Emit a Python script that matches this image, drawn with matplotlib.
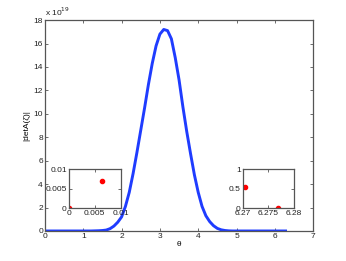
import matplotlib
matplotlib.use("Agg")
import matplotlib.pyplot as plt

plt.rcParams['font.family'] = ['Liberation Sans', 'DejaVu Sans']

# main curve, |det A| in units of 1e19
theta = [0.0, 0.5, 1.0, 1.2, 1.3, 1.4, 1.5, 1.6, 1.7, 1.8, 1.9, 2.0, 2.1,
         2.2, 2.3, 2.4, 2.5, 2.6, 2.7, 2.8, 2.9, 3.0, 3.1, 3.2, 3.3, 3.4,
         3.5, 3.6, 3.7, 3.8, 3.9, 4.0, 4.1, 4.2, 4.3, 4.4, 4.5, 4.6, 4.7,
         4.8, 4.9, 5.0, 5.5, 6.0, 6.28]
det_vals = [0.0, 0.0, 0.0, 0.0, 0.01, 0.02, 0.04, 0.08, 0.2, 0.42, 0.75, 1.2,
            2.1, 3.3, 4.9, 6.7, 8.6, 10.5, 12.5, 14.3, 15.8, 16.8, 17.2,
            17.1, 16.4, 14.8, 12.9, 10.6, 8.5, 6.6, 4.8, 3.3, 2.1, 1.3, 0.8,
            0.45, 0.22, 0.1, 0.04, 0.01, 0.0, 0.0, 0.0, 0.0, 0.0]

# zoomed points near the two ends
left_x = [0.0, 0.0063]
left_y = [0.0, 0.0069]
right_x = [6.2705, 6.2769]
right_y = [0.54, 0.0]

axis_gray = '#555555'
fs = 6


def style_axes(ax):
    for s in ax.spines.values():
        s.set_color(axis_gray)
        s.set_linewidth(0.9)
    ax.tick_params(direction='in', length=2.5, width=0.6, colors=axis_gray,
                   labelcolor='#222222', labelsize=fs, top=True, right=True,
                   pad=1.5)


fig = plt.figure(figsize=(3.46, 2.61), dpi=100)
ax = fig.add_axes([0.13, 0.115, 0.775, 0.808])
ax.plot(theta, det_vals, color='#1f3cff', linewidth=2.1,
        solid_joinstyle='round')
ax.set_xlim(0, 7)
ax.set_ylim(0, 18)
ax.set_xticks(range(0, 8))
ax.set_yticks(range(0, 19, 2))
style_axes(ax)
ax.set_xlabel('θ', fontsize=fs, labelpad=1)
ax.set_ylabel('|detA(ζ)|', fontsize=fs, labelpad=2)
ax.text(0.0, 1.012, 'x 10$^{19}$', transform=ax.transAxes, fontsize=fs,
        ha='left', va='bottom', color='#222222')

ax1 = fig.add_axes([0.199, 0.203, 0.150, 0.149])
ax1.plot(left_x, left_y, 'o', color='red', markersize=3)
ax1.set_xlim(0, 0.01)
ax1.set_ylim(0, 0.01)
ax1.set_xticks([0, 0.005, 0.01])
ax1.set_xticklabels(['0', '0.005', '0.01'])
ax1.set_yticks([0, 0.005, 0.01])
ax1.set_yticklabels(['0', '0.005', '0.01'])
style_axes(ax1)

ax2 = fig.add_axes([0.702, 0.203, 0.147, 0.149])
ax2.plot(right_x, right_y, 'o', color='red', markersize=3)
ax2.set_xlim(6.27, 6.28)
ax2.set_ylim(0, 1)
ax2.set_xticks([6.27, 6.275, 6.28])
ax2.set_xticklabels(['6.27', '6.275', '6.28'])
ax2.set_yticks([0, 0.5, 1])
ax2.set_yticklabels(['0', '0.5', '1'])
style_axes(ax2)

fig.savefig('out.png', dpi=100)
